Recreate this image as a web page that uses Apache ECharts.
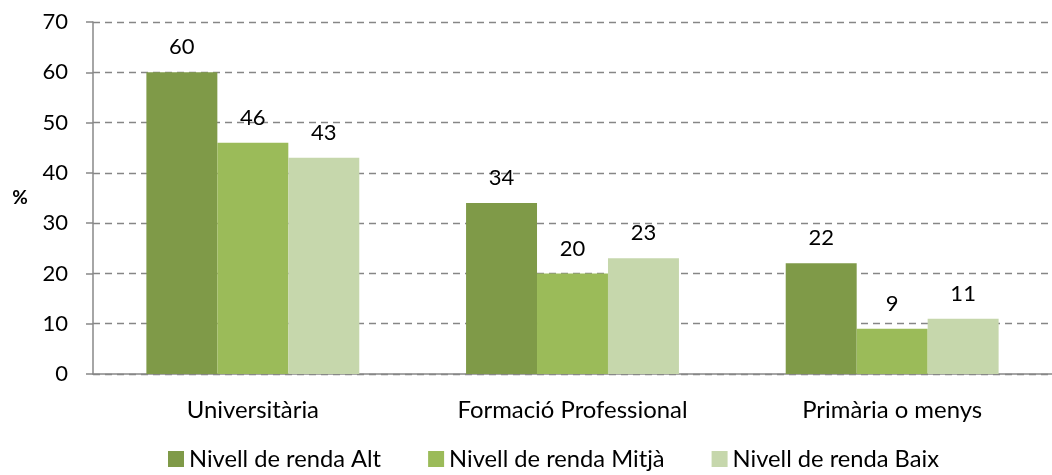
<!DOCTYPE html>
<html>
<head>
<meta charset="utf-8">
<script src="https://cdn.jsdelivr.net/npm/echarts@6/dist/echarts.min.js"></script>
<style>
  html, body { margin: 0; padding: 0; background: #fff; overflow: hidden; }
  #chart { width: 1052px; height: 475px; }
</style>
</head>
<body>
<div id="chart"></div>
<script>
// dades del gràfic
const categories = ['Universitària', 'Formació Professional', 'Primària o menys']
const seriesNames = ['Nivell de renda Alt', 'Nivell de renda Mitjà', 'Nivell de renda Baix']
const rendaAlt = [60, 34, 22]
const rendaMitja = [46, 20, 9]
const rendaBaix = [43, 23, 11]
const colors = ['#7f9a48', '#9bbb59', '#c6d7ac']

const font = 'Lato, "Open Sans", sans-serif'

function barSeries(name, data, color) {
  return {
    name: name,
    type: 'bar',
    data: data,
    barGap: '0%',
    barCategoryGap: '33.4%',
    itemStyle: { color: color },
    label: {
      show: true,
      position: 'top',
      distance: 14,
      color: '#000',
      fontFamily: font,
      fontSize: 22
    }
  }
}

let myChart = echarts.init(document.getElementById('chart'))
myChart.setOption({
  animation: false,
  // el gràfic original queda retallat per la dreta
  grid: { left: 93, right: -10, top: 22, bottom: 101 },
  legend: {
    top: 446,
    left: 168,
    padding: 0,
    itemWidth: 16,
    itemHeight: 16,
    itemGap: 47,
    icon: 'rect',
    textStyle: { color: '#000', fontFamily: font, fontSize: 23.7, lineHeight: 26 },
    data: seriesNames
  },
  xAxis: {
    type: 'category',
    data: categories,
    axisTick: { show: false },
    axisLine: { lineStyle: { color: '#888', width: 1.5 } },
    axisLabel: { margin: 24, color: '#000', fontFamily: font, fontSize: 23.9 }
  },
  yAxis: {
    type: 'value',
    min: 0,
    max: 70,
    interval: 10,
    name: '%',
    nameLocation: 'middle',
    nameGap: 73,
    nameRotate: 0,
    nameTextStyle: { color: '#000', fontFamily: font, fontSize: 19, fontWeight: 'bold', align: 'center' },
    axisLine: { show: true, lineStyle: { color: '#888', width: 1.5 } },
    axisTick: { show: true, length: 7, lineStyle: { color: '#888', width: 1.5 } },
    axisLabel: { margin: 25, color: '#000', fontFamily: font, fontSize: 22 },
    splitLine: { lineStyle: { color: '#868686', type: [7, 5], width: 1.3 } }
  },
  series: [
    barSeries(seriesNames[0], rendaAlt, colors[0]),
    barSeries(seriesNames[1], rendaMitja, colors[1]),
    barSeries(seriesNames[2], rendaBaix, colors[2])
  ]
})
</script>
</body>
</html>
